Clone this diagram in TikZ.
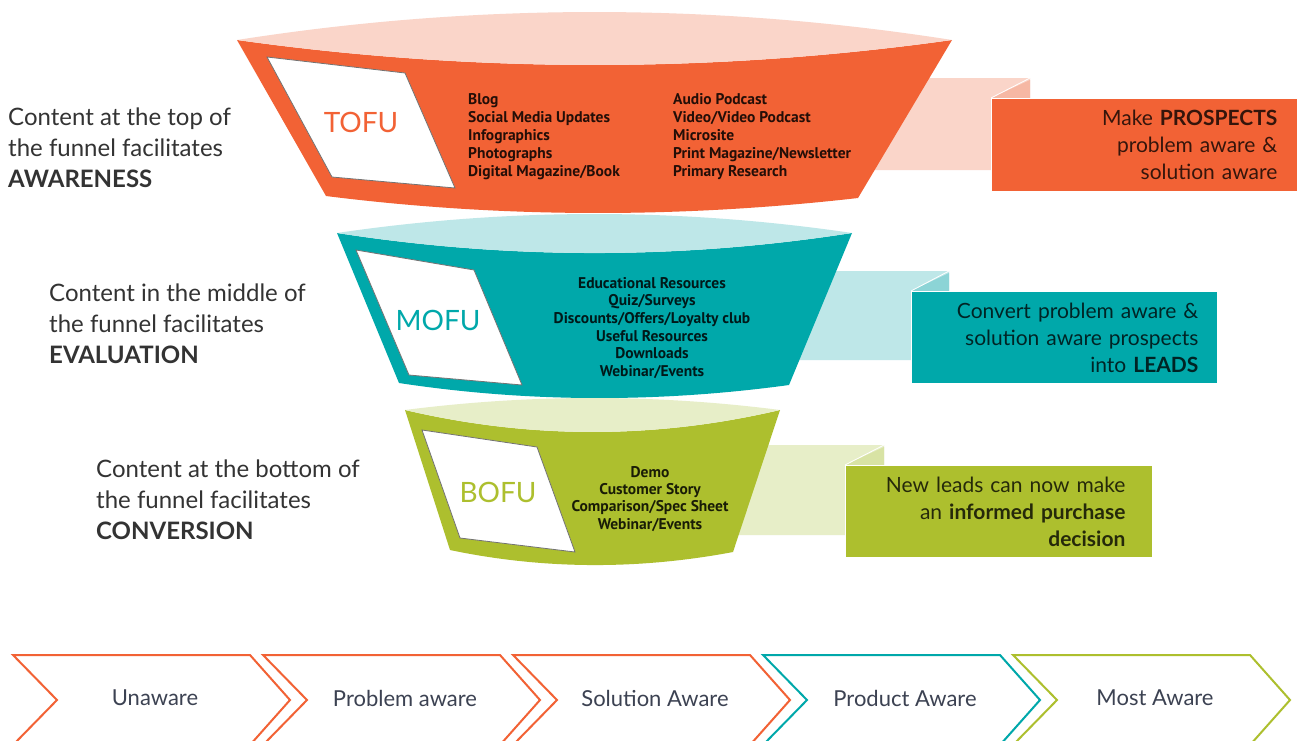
\documentclass[tikz,border=0pt]{standalone}
\usepackage{fontspec}
\setmainfont{Lato}
\newfontfamily\listfont{PT Sans}
\usetikzlibrary{positioning}
\definecolor{tofuColor}{RGB}{242,98,53}
\definecolor{tofuPale}{RGB}{250,213,201}
\definecolor{tofuFold}{RGB}{246,184,164}
\definecolor{mofuColor}{RGB}{0,168,170}
\definecolor{mofuPale}{RGB}{190,231,232}
\definecolor{mofuFold}{RGB}{140,212,214}
\definecolor{bofuColor}{RGB}{173,191,46}
\definecolor{bofuPale}{RGB}{231,238,200}
\definecolor{bofuFold}{RGB}{216,227,164}
\definecolor{captionColor}{RGB}{51,51,51}
\definecolor{stageColor}{RGB}{60,66,82}
\tikzset{caption/.style={align=left, anchor=north west, inner sep=0, text=captionColor, font=\fontsize{24}{31}\selectfont}}
\tikzset{contentlist/.style={inner sep=0, text=black, text opacity=.85, font=\listfont\bfseries\fontsize{15.5}{18}\selectfont}}
\tikzset{panel/.style={fill=white, draw=black!55, line width=.8pt}}
\tikzset{funnellabel/.style={font=\fontsize{28}{28}\selectfont}}
\tikzset{goalbox/.style={draw=white, line width=.8pt, align=right, anchor=north west, inner sep=0, text=black, text opacity=.78, font=\fontsize{21}{27}\selectfont}}
\tikzset{stage/.style={text=stageColor, font=\fontsize{22}{22}\selectfont}}

\begin{document}
\begin{tikzpicture}[x=1pt, y=-1pt]
	\clip (0,0) rectangle (1300,740);
	\fill[white] (0,0) rectangle (1300,740);

	% Ribbons
	\fill[tofuPale] (860,78) -- (1030,78) -- (1030,98) -- (991,98) -- (991,170) -- (860,170) -- cycle;
	\fill[tofuFold] (1030,80) -- (1030,98) -- (991,98) -- cycle;
	\draw[white, line width=.8pt] (1030,78) -- (991,98);
	\fill[mofuPale] (780,271) -- (949,271) -- (949,291) -- (911,291) -- (911,360) -- (780,360) -- cycle;
	\fill[mofuFold] (949,273) -- (949,291) -- (911,291) -- cycle;
	\draw[white, line width=.8pt] (949,271) -- (911,291);
	\fill[bofuPale] (730,445) -- (884,445) -- (884,465) -- (845,465) -- (845,535) -- (730,535) -- cycle;
	\fill[bofuFold] (884,447) -- (884,465) -- (845,465) -- cycle;
	\draw[white, line width=.8pt] (884,445) -- (845,465);

	% Funnel
	\fill[tofuColor] (237,40) -- (326,196) .. controls (503,218.3) and (680,218.3) .. (858,198) -- (952,40) .. controls (714,73.3) and (475,73.3) .. cycle;
	\fill[tofuPale] (237,40) .. controls (475,2.7) and (714,2.7) .. (952,40) .. controls (714,73.3) and (475,73.3) .. cycle;
	\draw[panel] (267,57) -- (405,73) -- (455,188) -- (332,177) -- cycle;
	\node (tofu) [funnellabel, text=tofuColor] at (361,122) {TOFU};
	\node (tofulistA) [contentlist, align=left, anchor=north west] at (468,93) {Blog\\Social Media Updates\\Infographics\\Photographs\\Digital Magazine/Book};
	\node (tofulistB) [contentlist, align=left, anchor=north west] at (673,93) {Audio Podcast\\Video/Video Podcast\\Microsite\\Print Magazine/Newsletter\\Primary Research};

	\fill[mofuColor] (337,233) -- (399,383) .. controls (529,402.7) and (659,402.7) .. (789,385) -- (852,233) .. controls (680,259.7) and (509,259.7) .. cycle;
	\fill[mofuPale] (337,233) .. controls (509,207.7) and (680,207.7) .. (852,233) .. controls (680,259.7) and (509,259.7) .. cycle;
	\draw[panel] (356,250) -- (474,270) -- (522,385) -- (409,375) -- cycle;
	\node (mofu) [funnellabel, text=mofuColor] at (438,320) {MOFU};
	\node (mofulist) [contentlist, align=center, anchor=north, font=\listfont\bfseries\fontsize{15.5}{17.6}\selectfont] at (652,277) {Educational Resources\\Quiz/Surveys\\Discounts/Offers/Loyalty club\\Useful Resources\\Downloads\\Webinar/Events};

	\fill[bofuColor] (405,410) -- (450,550) .. controls (544,569.7) and (639,569.7) .. (733,552) -- (780,410) .. controls (655,439.3) and (530,439.3) .. cycle;
	\fill[bofuPale] (405,410) .. controls (530,394) and (655,394) .. (780,410) .. controls (655,439.3) and (530,439.3) .. cycle;
	\draw[panel] (422,430) -- (537,447) -- (575,552) -- (460,538) -- cycle;
	\node (bofu) [funnellabel, text=bofuColor] at (498,492) {BOFU};
	\node (bofulist) [contentlist, align=center, anchor=north, font=\listfont\bfseries\fontsize{15.5}{17.3}\selectfont] at (650,466) {Demo\\Customer Story\\Comparison/Spec Sheet\\Webinar/Events};

	% Goals
	\node (prospects) [goalbox, fill=tofuColor, minimum width=306pt, minimum height=93pt, text width=266pt] at (991,98) {Make \textbf{PROSPECTS}\\problem aware \&\\solution aware};
	\node (leads) [goalbox, fill=mofuColor, minimum width=306pt, minimum height=92pt, text width=268pt] at (911,291) {Convert problem aware \&\\solution aware prospects\\into \textbf{LEADS}};
	\node (purchase) [goalbox, fill=bofuColor, minimum width=307pt, minimum height=92pt, text width=253pt] at (845,465) {New leads can now make\\an \textbf{informed purchase}\\\textbf{decision}};

	% Captions
	\node (awareness) [caption] at (8,108) {Content at the top of\\the funnel facilitates\\\textbf{AWARENESS}};
	\node (evaluation) [caption] at (49,284) {Content in the middle of\\the funnel facilitates\\\textbf{EVALUATION}};
	\node (conversion) [caption] at (96,460) {Content at the bottom of\\the funnel facilitates\\\textbf{CONVERSION}};

	% Stages
	\foreach \i/\col/\name/\txt in {0/tofuColor/unaware/Unaware, 1/tofuColor/problem/Problem aware, 2/tofuColor/solution/Solution Aware, 3/mofuColor/product/Product Aware, 4/bofuColor/most/Most Aware}{
		\pgfmathsetmacro\o{250*\i}
		\draw[\col, line width=2pt] ({13+\o},655) -- ({250+\o},655) -- ({290+\o},700) -- ({250+\o},745) -- ({13+\o},745) -- ({57+\o},700) -- cycle;
		\node (\name) [stage] at ({155+\o},698) {\txt};
	}
\end{tikzpicture}
\end{document}
